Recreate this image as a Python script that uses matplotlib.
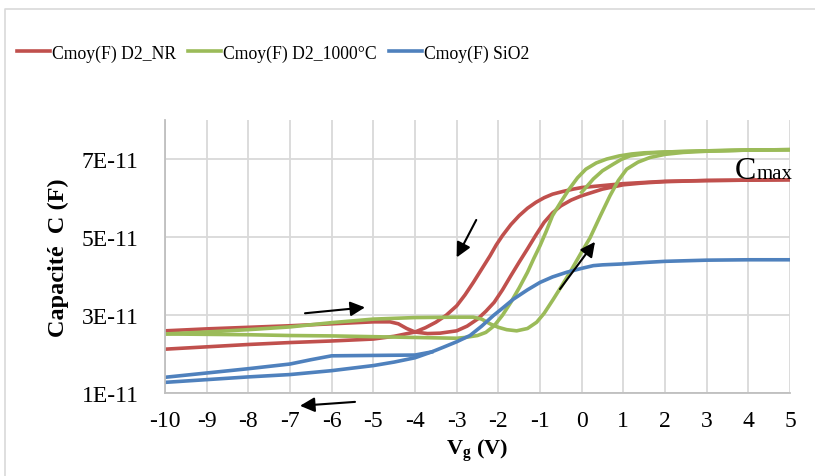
import numpy as np
import matplotlib
matplotlib.use("Agg")
import matplotlib.pyplot as plt
from matplotlib.lines import Line2D
from matplotlib.ticker import FuncFormatter, FixedLocator

plt.rcParams['font.family'] = 'Liberation Serif'
plt.rcParams['mathtext.fontset'] = 'custom'
plt.rcParams['mathtext.rm'] = 'Liberation Serif'
plt.rcParams['mathtext.it'] = 'Liberation Serif:italic'
plt.rcParams['mathtext.bf'] = 'Liberation Serif:bold'
plt.rcParams['axes.unicode_minus'] = False

# capacitance values in units of 1E-11 F
# D2_NR : forward sweep (upper branch) and reverse sweep (lower branch)
nr_fwd_v = [-10, -9, -8, -7, -6, -5, -4.6, -4.4, -4.2, -4.0, -3.7, -3.4, -3.0, -2.75, -2.5, -2.3,
            -2.1, -1.9, -1.7, -1.5, -1.3, -1.1, -0.9, -0.7, -0.5, -0.25, 0, 0.5, 1, 1.5, 2, 3, 4, 5]
nr_fwd_c = [2.60, 2.65, 2.69, 2.73, 2.78, 2.83, 2.83, 2.78, 2.66, 2.57, 2.53, 2.54, 2.60, 2.72, 2.90, 3.10,
            3.33, 3.65, 4.01, 4.36, 4.70, 5.05, 5.38, 5.62, 5.80, 5.95, 6.06, 6.23, 6.34, 6.39, 6.42, 6.45, 6.46, 6.47]
nr_rev_v = [5, 4, 3, 2, 1, 0.5, 0.3, 0, -0.2, -0.45, -0.7, -0.9, -1.1, -1.3, -1.5, -1.7, -1.9,
            -2.05, -2.2, -2.4, -2.6, -2.8, -3.0, -3.25, -3.5, -3.75, -4.0, -4.5, -5, -6, -7, -8, -9, -10]
nr_rev_c = [6.47, 6.46, 6.45, 6.43, 6.37, 6.32, 6.30, 6.27, 6.23, 6.17, 6.10, 6.01, 5.89, 5.74, 5.55, 5.32, 5.04,
            4.80, 4.52, 4.18, 3.84, 3.52, 3.24, 3.00, 2.82, 2.68, 2.57, 2.46, 2.39, 2.34, 2.30, 2.25, 2.19, 2.13]

# D2_1000°C : start (0 V -> 5 V), reverse sweep, forward sweep
t_start_v = [0.0, 0.15, 0.28, 0.5, 0.76, 0.95, 1.16, 1.6, 2, 3, 4, 5]
t_start_c = [6.15, 6.33, 6.49, 6.70, 6.87, 6.99, 7.08, 7.15, 7.18, 7.21, 7.23, 7.24]
t_rev_v = [5, 4, 3, 2, 1.5, 1.2, 0.9, 0.6, 0.35, 0.1, -0.1, -0.3, -0.5, -0.7, -0.85, -1.0, -1.15, -1.3, -1.5,
           -1.7, -1.9, -2.1, -2.3, -2.5, -2.8, -3, -4, -5, -6, -7, -8, -9, -10]
t_rev_c = [7.24, 7.23, 7.21, 7.18, 7.16, 7.13, 7.08, 7.00, 6.90, 6.74, 6.52, 6.23, 5.90, 5.55, 5.15, 4.78, 4.45, 4.10, 3.70,
           3.33, 3.00, 2.73, 2.56, 2.48, 2.43, 2.41, 2.43, 2.45, 2.47, 2.48, 2.50, 2.51, 2.52]
t_fwd_v = [-10, -9, -8, -7, -6, -5, -4, -3, -2.6, -2.4, -2.2, -2.0, -1.8, -1.56, -1.3, -1.08, -0.9,
           -0.68, -0.48, -0.28, 0, 0.2, 0.45, 0.68, 0.88, 1.08, 1.35, 1.64, 2, 2.44, 3, 4, 5]
t_fwd_c = [2.52, 2.57, 2.63, 2.70, 2.81, 2.90, 2.94, 2.95, 2.95, 2.90, 2.78, 2.69, 2.63, 2.60, 2.66, 2.82, 3.05,
           3.41, 3.75, 4.10, 4.62, 4.98, 5.55, 6.06, 6.45, 6.74, 6.92, 7.04, 7.12, 7.17, 7.20, 7.23, 7.24]

# SiO2 : upper branch at negative bias, lower branch, then the common rise
ox_up_v = [-10, -9, -8, -7, -6.5, -6, -5, -4, -3.6]
ox_up_c = [1.41, 1.52, 1.63, 1.75, 1.86, 1.96, 1.97, 1.98, 2.06]
ox_v = [-10, -9, -8, -7, -6, -5, -4.5, -4, -3.6, -3.32, -3.0, -2.68, -2.4, -2.12, -1.9, -1.64, -1.3,
        -1.0, -0.7, -0.36, 0, 0.28, 0.5, 0.92, 1.5, 2, 3, 4, 5]
ox_c = [1.28, 1.35, 1.42, 1.48, 1.58, 1.71, 1.80, 1.91, 2.06, 2.18, 2.32, 2.48, 2.72, 2.99, 3.18, 3.41, 3.65,
        3.84, 3.98, 4.10, 4.20, 4.27, 4.29, 4.31, 4.35, 4.38, 4.41, 4.42, 4.42]

x_ticks = list(range(-10, 6))
y_ticks = [1, 3, 5, 7]

red = '#c0504d'
green = '#9bbb59'
blue = '#4f81bd'
E = 1e-11

fig = plt.figure(figsize=(8.15, 4.77), dpi=100)
ax = fig.add_axes([165 / 815, 1 - 394.3 / 477, 625 / 815, 273.3 / 477])

lw = 2.6
ax.plot(nr_fwd_v, np.array(nr_fwd_c) * E, color=red, lw=lw, label='Cmoy(F) D2_NR')
ax.plot(nr_rev_v, np.array(nr_rev_c) * E, color=red, lw=lw)
ax.plot(t_start_v, np.array(t_start_c) * E, color=green, lw=lw, label='Cmoy(F) D2_1000°C')
ax.plot(t_rev_v, np.array(t_rev_c) * E, color=green, lw=lw)
ax.plot(t_fwd_v, np.array(t_fwd_c) * E, color=green, lw=lw)
ax.plot(ox_up_v, np.array(ox_up_c) * E, color=blue, lw=lw, label='Cmoy(F) SiO2')
ax.plot(ox_v, np.array(ox_c) * E, color=blue, lw=lw)

ax.set_xlim(-10, 5)
ax.set_ylim(1 * E, 8 * E)
ax.xaxis.set_major_locator(FixedLocator(x_ticks))
ax.yaxis.set_major_locator(FixedLocator([v * E for v in y_ticks]))
ax.yaxis.set_major_formatter(FuncFormatter(lambda v, p: f"{v / E:.0f}E-11"))
ax.grid(True, color='#d9d9d9', lw=1.3)
ax.set_axisbelow(True)
for s in ['top', 'right']:
    ax.spines[s].set_visible(False)
for s in ['left', 'bottom']:
    ax.spines[s].set_color('#bfbfbf')
    ax.spines[s].set_linewidth(1.3)
ax.tick_params(length=0, labelsize=17)
ax.tick_params(axis='x', pad=12)
ax.tick_params(axis='y', pad=19)

ax.set_ylabel('Capacité  C (F)', fontsize=17.5, fontweight='bold', labelpad=9)
ax.set_xlabel(r'V$_{\mathbf{g}}$ (V)', fontsize=16, fontweight='bold', labelpad=4)

arrow = dict(arrowstyle='-|>', color='black', lw=1.5, mutation_scale=22, shrinkA=0, shrinkB=0)
ax.annotate('', xy=(-5.2, 3.20 * E), xytext=(-6.64, 3.05 * E), arrowprops=arrow)
ax.annotate('', xy=(-6.76, 0.68 * E), xytext=(-5.44, 0.78 * E), arrowprops=arrow, annotation_clip=False)
ax.annotate('', xy=(-3.0, 4.48 * E), xytext=(-2.53, 5.44 * E), arrowprops=arrow)
ax.annotate('', xy=(0.32, 4.88 * E), xytext=(-0.52, 3.67 * E), arrowprops=arrow)

ax.text(4.19, 6.52 * E, 'C', fontsize=23, ha='right', va='baseline')
ax.text(4.21, 6.52 * E, 'max', fontsize=15, ha='left', va='baseline')

ax.legend(loc='center left', bbox_to_anchor=(17 / 815, 1 - 54 / 477), bbox_transform=fig.transFigure,
          ncol=3, frameon=False, fontsize=12.7, handlelength=1.85, handletextpad=0.12,
          columnspacing=0.7, borderaxespad=0, borderpad=0)

fig.add_artist(Line2D([5 / 815, 5 / 815, 1], [0, 1 - 10 / 477, 1 - 10 / 477],
                      transform=fig.transFigure, color='#d9d9d9', lw=1.2))

fig.savefig('out.png', dpi=100)
